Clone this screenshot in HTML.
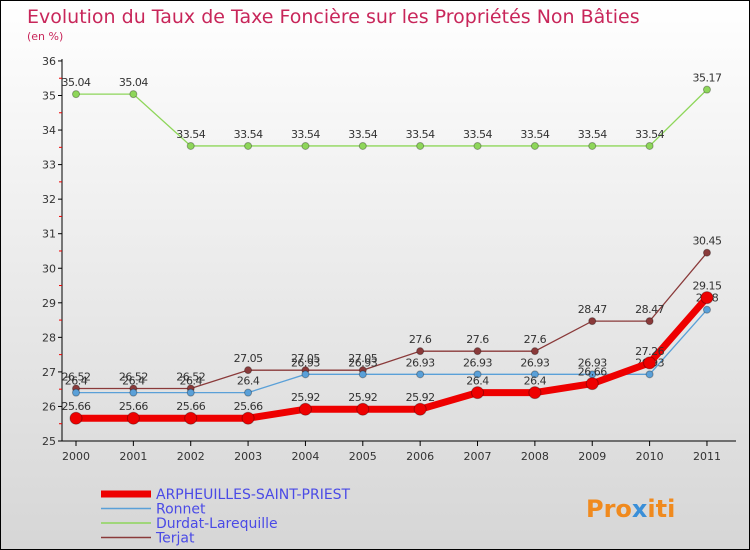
<!DOCTYPE html>
<html><head><meta charset="utf-8"><style>
body{margin:0}
#wrap{position:relative;width:748px;height:548px;border:1px solid #000;background:linear-gradient(#fff,#d6d6d6);font-family:"DejaVu Sans","Liberation Sans",sans-serif;overflow:hidden}
</style></head><body>
<div id="wrap">
<svg id="svg" width="748" height="548" xmlns="http://www.w3.org/2000/svg">
<text x="26" y="22" font-size="19" fill="#c8265a">Evolution du Taux de Taxe Foncière sur les Propriétés Non Bâties</text>
<text x="26" y="39" font-size="11" fill="#c8265a">(en %)</text>
<g id="axes"></g><g id="series"></g><g id="legend"></g>
<text x="585" y="516" font-size="24" font-weight="bold" fill="#f08a1e">Pro<tspan fill="#3a8fd8">x</tspan><tspan fill="#f08a1e">iti</tspan></text>
</svg>
</div>
<script>
const years=["2000","2001","2002","2003","2004","2005","2006","2007","2008","2009","2010","2011"];
const yTicks=[25,26,27,28,29,30,31,32,33,34,35,36];
const arpheuilles=[25.66,25.66,25.66,25.66,25.92,25.92,25.92,26.4,26.4,26.66,27.26,29.15];
const ronnet=[26.4,26.4,26.4,26.4,26.93,26.93,26.93,26.93,26.93,26.93,26.93,28.8];
const durdat=[35.04,35.04,33.54,33.54,33.54,33.54,33.54,33.54,33.54,33.54,33.54,35.17];
const terjat=[26.52,26.52,26.52,27.05,27.05,27.05,27.6,27.6,27.6,28.47,28.47,30.45];
const seriesNames=["ARPHEUILLES-SAINT-PRIEST","Ronnet","Durdat-Larequille","Terjat"];
const NS="http://www.w3.org/2000/svg";
const X=i=>75+i*57.36, Y=v=>440-(v-25)*34.55;
function mk(tag,attrs,parent,txt){const e=document.createElementNS(NS,tag);for(const k in attrs)e.setAttribute(k,attrs[k]);if(txt!==undefined)e.textContent=txt;parent.appendChild(e);return e;}
const ax=document.getElementById('axes');
let a=mk('line',{x1:61,y1:58,x2:61,y2:440,stroke:'#000'},ax);

a=mk('line',{x1:61,y1:440,x2:735,y2:440,stroke:'#000'},ax);

yTicks.forEach(t=>{
 mk('line',{x1:57,y1:Y(t),x2:61,y2:Y(t),stroke:'#000'},ax);
 if(t<36)mk('line',{x1:58,y1:Y(t+0.5),x2:61,y2:Y(t+0.5),stroke:'#e00'},ax);
 const l=mk('text',{x:55,y:Y(t)+4,'font-size':11,'text-anchor':'end',fill:'#333'},ax,String(t));
 
});
years.forEach((y,i)=>{
 mk('line',{x1:X(i),y1:440,x2:X(i),y2:445,stroke:'#000'},ax);
 const l=mk('text',{x:X(i),y:459,'font-size':11,'text-anchor':'middle',fill:'#333'},ax,y);
 
});
const sg=document.getElementById('series');
function draw(vals,color,w,r,name){
 const g=mk('g',{},sg);
 
 mk('polyline',{points:vals.map((v,i)=>X(i)+','+Y(v)).join(' '),fill:'none',stroke:color,'stroke-width':w},g);
 vals.forEach((v,i)=>{
  const c=mk('circle',{cx:X(i),cy:Y(v),r:r,fill:color,stroke:'rgba(0,0,0,0.3)'},g);
  
  mk('text',{x:X(i),y:Y(v)-8,'font-size':11,'text-anchor':'middle',fill:'#333','letter-spacing':'-0.5'},g,String(v));
 });
}
draw(durdat,'#8ed65a',1.3,3.5,'series-durdat-larequille');
draw(terjat,'#8a3a3a',1.3,3.5,'series-terjat');
draw(ronnet,'#5aa0d8',1.3,3.5,'series-ronnet');
draw(arpheuilles,'#ee0000',7,6,'series-arpheuilles');
const lg=document.getElementById('legend');
const lc=['#ee0000','#5aa0d8','#8ed65a','#8a3a3a'],lw=[7,1.5,1.5,1.5];
seriesNames.forEach((n,i)=>{
 const g=mk('g',{},lg);
 
 const y=493+i*14.5;
 mk('line',{x1:100,y1:y,x2:150,y2:y,stroke:lc[i],'stroke-width':lw[i]},g);
 mk('text',{x:155,y:y+5,'font-size':14,fill:'#4a4ae6'},g,n);
});
</script>
</body></html>
